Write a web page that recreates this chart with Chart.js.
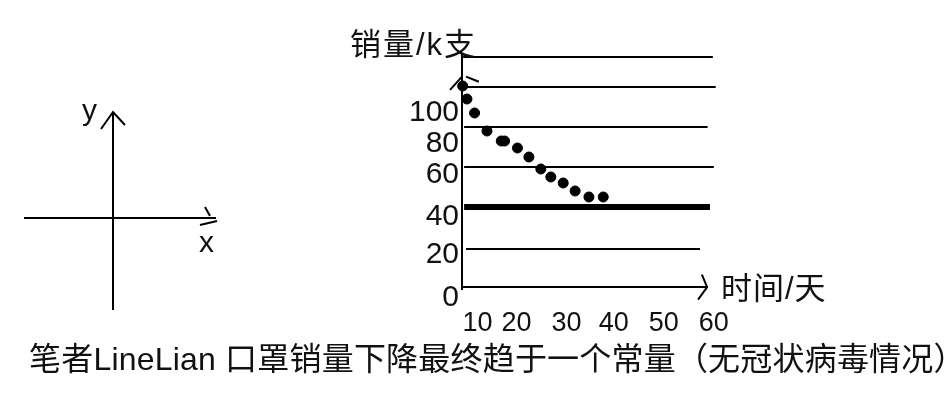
<!DOCTYPE html>
<html>
<head>
<meta charset="utf-8">
<script src="https://cdn.jsdelivr.net/npm/chart.js@4.4.0/dist/chart.umd.min.js"></script>
<style>
  body { margin: 0; background: #fff; }
  #wrap { position: relative; width: 952px; height: 420px; overflow: hidden;
          font-family: "Liberation Sans", "Noto Sans CJK SC", sans-serif; color: #111; }
  .box { position: absolute; }
  .txt { position: absolute; white-space: nowrap; line-height: 1; }
</style>
</head>
<body>
<div id="wrap">
  <div class="box" style="left:0;top:0;width:952px;height:420px">
    <canvas id="mainChart" width="952" height="420"></canvas>
  </div>
  <div class="box" style="left:0;top:90px;width:240px;height:240px">
    <canvas id="axisSketch" width="240" height="240"></canvas>
  </div>
  <div class="txt" style="left:350px;top:29px;font-size:31px;letter-spacing:2px">销量/k支</div>
  <div class="txt" style="left:721px;top:273px;font-size:31px;letter-spacing:1px">时间/天</div>
  <div class="txt" style="left:82px;top:95px;font-size:30px">y</div>
  <div class="txt" style="left:199px;top:227px;font-size:30px">x</div>
  <div class="txt" style="left:29px;top:343px;font-size:32px;letter-spacing:0.2px">笔者LineLian 口罩销量下降最终趋于一个常量（无冠状病毒情况）</div>
</div>
<script>
// days and sales (k)
const days = [7.9, 8.8, 10.4, 13.0, 16.0, 16.7, 19.4, 21.8, 24.3, 26.4, 29.0, 31.5, 34.4, 37.4];
const sales = [100.5, 94, 87, 78, 73, 73, 69.5, 65, 59, 55, 52, 48, 45, 45];

// tick texts, and where the sketch wrote them on each axis
const xTicks = ['10', '20', '30', '40', '50', '60'];
const xTickAt = [11.0, 19.2, 29.7, 39.6, 50.1, 60.6];
const yTicks = ['0', '20', '40', '60', '80', '100'];
const yTickAt = [-5.2, 16, 35.2, 56, 71.5, 87.2];

// horizontal reference lines: level, from day, to day
const levels = [115, 100, 80, 60, 40, 19];
const levelFrom = [8.0, 8.4, 8.2, 8.2, 8.2, 8.6];
const levelTo = [60.4, 61.0, 59.3, 60.6, 59.8, 57.7];
const constantLevel = 40;

function seg(points, width) {
  return {
    type: 'line',
    data: points.map(p => ({ x: p[0], y: p[1] })),
    borderColor: '#000',
    borderWidth: width || 2,
    pointRadius: 0,
    fill: false,
    clip: false,
    tension: 0
  };
}

const datasets = [];
levels.forEach((lv, i) => {
  datasets.push(seg([[levelFrom[i], lv], [levelTo[i], lv]], lv === constantLevel ? 6 : 2));
});
// axes with hand-drawn arrow strokes
datasets.push(seg([[7.76, -1.5], [7.76, 116.5]]));
datasets.push(seg([[5.25, 98.6], [7.76, 105.2]]));
datasets.push(seg([[8.6, 105.2], [11.3, 102.6]]));
datasets.push(seg([[7.76, 0], [59.2, 0]]));
datasets.push(seg([[58.1, 6.2], [59.2, 0], [57.3, -6.3]]));
datasets.push({
  type: 'scatter',
  data: days.map((d, i) => ({ x: d, y: sales[i] })),
  backgroundColor: '#000',
  borderColor: '#000',
  pointRadius: 5,
  pointHoverRadius: 5,
  clip: false
});

new Chart(document.getElementById('mainChart'), {
  type: 'scatter',
  data: { datasets: datasets },
  options: {
    responsive: false,
    animation: false,
    events: [],
    layout: { padding: { top: 50, right: 232, left: 0, bottom: 0 } },
    plugins: { legend: { display: false }, tooltip: { enabled: false } },
    scales: {
      x: {
        type: 'linear',
        min: 7.76,
        max: 61.9,
        grid: { display: false, drawTicks: false },
        border: { display: false },
        afterBuildTicks: (scale) => { scale.ticks = xTickAt.map(v => ({ value: v })); },
        afterFit: (scale) => { scale.height = 113; },
        ticks: {
          padding: 0,
          color: '#111',
          maxRotation: 0,
          autoSkip: false,
          font: { family: 'Liberation Sans', size: 27 },
          callback: (v, i) => xTicks[i]
        }
      },
      y: {
        type: 'linear',
        position: 'left',
        min: -10,
        max: 118.5,
        grid: { display: false, drawTicks: false },
        border: { display: false },
        afterBuildTicks: (scale) => { scale.ticks = yTickAt.map(v => ({ value: v })); },
        afterFit: (scale) => { scale.width = 462; },
        ticks: {
          padding: 3,
          color: '#111',
          autoSkip: false,
          font: { family: 'Liberation Sans', size: 30 },
          callback: (v, i) => yTicks[i]
        }
      }
    }
  }
});

// small sketch of x/y axes on the left
new Chart(document.getElementById('axisSketch'), {
  type: 'scatter',
  data: {
    datasets: [
      seg([[-4.45, 0], [5.15, 0]]),
      seg([[0, 5.3], [0, -4.6]]),
      seg([[-0.6, 4.45], [0, 5.3], [0.6, 4.65]]),
      seg([[4.6, 0.55], [4.85, 0.1]]),
      seg([[4.35, -0.35], [5.2, -0.15]])
    ]
  },
  options: {
    responsive: false,
    animation: false,
    events: [],
    plugins: { legend: { display: false }, tooltip: { enabled: false } },
    scales: {
      x: { type: 'linear', display: false, min: -5.65, max: 6.35 },
      y: { type: 'linear', display: false, min: -5.6, max: 6.4 }
    }
  }
});
</script>
</body>
</html>
